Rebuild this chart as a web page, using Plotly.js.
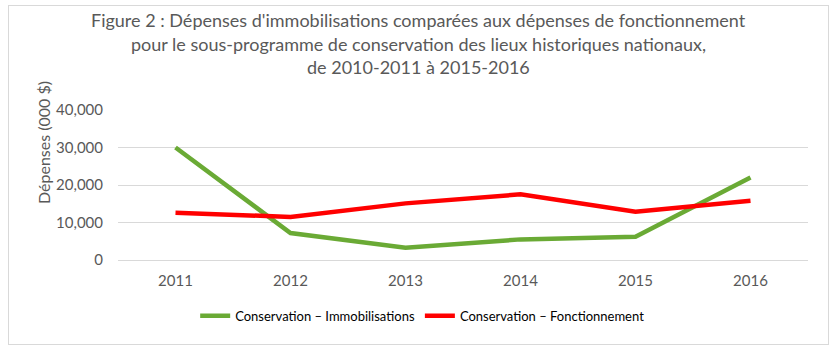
<!DOCTYPE html>
<html>
<head>
<meta charset="utf-8">
<script src="https://cdn.plot.ly/plotly-3.0.1.min.js"></script>
<style>
  html, body { margin: 0; padding: 0; background: #fff; }
  #chart { position: absolute; left: 0; top: 0; width: 836px; height: 351px; }
  #frame { position: absolute; left: 8px; top: 5px; width: 821px; height: 340px; box-sizing: border-box; border: 1px solid #d9d9d9; pointer-events: none; }
</style>
</head>
<body>
<div id="chart"></div>
<div id="frame"></div>
<script>
const years = ['2011', '2012', '2013', '2014', '2015', '2016'];
const immobilisations = [30000, 7200, 3300, 5500, 6200, 22000];
const fonctionnement = [12600, 11500, 15100, 17500, 12900, 15800];
const yTicks = [0, 10000, 20000, 30000, 40000];
const yTickLabels = ['0', '10,000', '20,000', '30,000', '40,000'];
const titleLines = [
  'Figure 2 : Dépenses d\'immobilisations comparées aux dépenses de fonctionnement',
  'pour le sous-programme de conservation des lieux historiques nationaux,',
  'de 2010-2011 à 2015-2016'
];

const FONT = 'Lato, "Open Sans", sans-serif';

const traces = [
  {
    x: years, y: immobilisations, type: 'scatter', mode: 'lines',
    name: 'Conservation – Immobilisations',
    line: { color: '#6aaa35', width: 4.5 }
  },
  {
    x: years, y: fonctionnement, type: 'scatter', mode: 'lines',
    name: 'Conservation – Fonctionnement',
    line: { color: '#ff0000', width: 4.5 }
  }
];

// plot area: left 118, width 690; top 110, height 150
const titleY = [20, 44, 67];
const annotations = titleLines.map((t, i) => ({
  text: t, showarrow: false, xref: 'paper', yref: 'paper',
  x: (418 - 118) / 690, y: (260 - titleY[i]) / 150,
  xanchor: 'center', yanchor: 'middle',
  font: { family: FONT, size: 18, color: '#595959' }
}));
annotations.push({
  text: 'Dépenses (000 $)', textangle: -90, showarrow: false,
  xref: 'paper', yref: 'paper',
  x: (43 - 118) / 690, y: (260 - 143) / 150,
  xanchor: 'center', yanchor: 'middle',
  font: { family: FONT, size: 16, color: '#595959' }
});

const layout = {
  width: 836, height: 351,
  margin: { l: 118, r: 28, t: 110, b: 91 },
  paper_bgcolor: '#ffffff', plot_bgcolor: '#ffffff',
  font: { family: FONT, color: '#595959', size: 15 },
  xaxis: {
    type: 'category', range: [-0.5, 5.5],
    showgrid: false, showline: false, zeroline: false, ticks: '',
    tickfont: { family: FONT, size: 15, color: '#595959' },
    ticklabelstandoff: 10
  },
  yaxis: {
    range: [0, 40000], tickvals: yTicks, ticktext: yTickLabels,
    showgrid: true, gridcolor: '#d9d9d9', gridwidth: 1,
    zeroline: true, zerolinecolor: '#d9d9d9', zerolinewidth: 1,
    showline: false, ticks: '',
    tickfont: { family: FONT, size: 15, color: '#595959' },
    ticklabelstandoff: 14
  },
  annotations: annotations,
  showlegend: true,
  legend: {
    orientation: 'h', xref: 'container', yref: 'container',
    x: 0.505, xanchor: 'center', y: 0.1, yanchor: 'middle',
    font: { family: FONT, size: 13, color: '#000000' },
    itemwidth: 30, tracegroupgap: 0
  }
};

Plotly.newPlot('chart', traces, layout, { displayModeBar: false, staticPlot: true });
</script>
</body>
</html>
